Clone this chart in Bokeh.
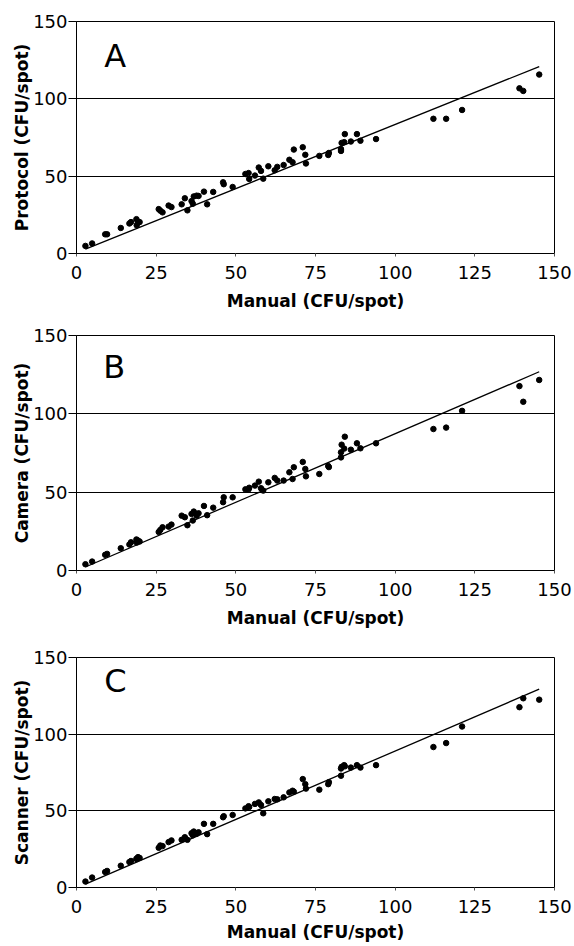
from bokeh.plotting import figure
from bokeh.layouts import column
from bokeh.models import Range1d, FixedTicker, Label
from bokeh.embed import file_html
from bokeh.resources import INLINE

# ---- data ----
manual = [2.8, 4.9, 9.0, 9.6, 13.9, 16.6, 17.1, 18.8, 19.3, 19.8, 18.9,
          25.8, 26.3, 27.0, 28.9, 29.8, 33.0, 34.0, 34.8, 36.1, 36.5, 36.8,
          37.7, 38.3, 40.0, 41.0, 42.9, 46.0, 46.2, 49.0, 53.0, 54.0, 54.2,
          56.0, 57.2, 57.9, 58.6, 60.2, 62.2, 63.0, 65.0, 66.8, 67.8, 68.2,
          71.0, 71.8, 72.0, 76.2, 79.0, 79.2, 83.0, 83.0, 83.2, 84.0, 84.2,
          86.1, 88.0, 89.1, 94.0, 112.0, 116.0, 121.0, 139.0, 140.2, 145.2]

protocol = [4.9, 6.5, 12.4, 12.4, 16.5, 19.4, 20.3, 22.2, 20.3, 20.3, 18.2,
            28.7, 27.7, 26.6, 31.0, 30.0, 31.8, 35.7, 27.9, 33.9, 32.2, 36.9,
            37.4, 37.2, 40.0, 31.8, 39.8, 46.0, 44.8, 43.0, 51.4, 52.0, 48.2,
            50.4, 55.6, 53.4, 48.4, 56.4, 53.8, 56.0, 57.2, 60.6, 59.0, 67.2,
            68.7, 63.8, 58.2, 63.1, 63.7, 65.0, 66.3, 67.5, 71.5, 72.0, 77.2,
            72.4, 77.2, 72.9, 74.0, 87.1, 87.1, 92.8, 106.8, 105.1, 115.7]

camera = [4.0, 5.7, 10.0, 10.6, 14.2, 16.6, 18.0, 19.8, 19.1, 18.5, 17.8,
          24.6, 25.9, 27.6, 28.0, 29.3, 35.0, 34.0, 28.9, 36.1, 31.9, 37.6,
          35.0, 36.5, 41.2, 35.3, 40.1, 43.6, 46.7, 46.7, 51.8, 51.8, 52.8,
          54.2, 56.7, 52.5, 51.0, 56.3, 59.1, 57.4, 57.4, 62.7, 58.4, 65.9,
          69.3, 64.8, 60.1, 61.6, 66.7, 66.0, 72.2, 75.4, 80.3, 77.8, 85.4,
          77.1, 81.2, 78.0, 81.2, 90.3, 91.2, 101.9, 117.7, 107.7, 121.6]

scanner = [3.9, 6.5, 10.1, 10.8, 14.2, 16.6, 17.3, 18.8, 19.8, 19.3, 18.5,
           25.9, 27.4, 27.0, 29.6, 30.7, 31.1, 32.8, 31.1, 35.4, 34.0, 36.5,
           35.0, 36.0, 41.5, 34.8, 41.5, 45.8, 46.5, 47.3, 51.6, 53.0, 52.5,
           54.5, 55.5, 53.8, 48.4, 56.2, 57.7, 57.5, 58.8, 62.0, 63.1, 62.5,
           70.7, 67.4, 64.5, 63.8, 67.4, 68.7, 72.9, 77.6, 78.7, 79.8, 79.0,
           78.2, 79.8, 78.2, 79.8, 91.6, 94.2, 105.0, 117.6, 123.4, 122.5]

# trend lines (slope, intercept)
slopes = [0.829, 0.875, 0.893]
intercepts = [0.5, -0.2, -0.3]

panel_letters = ["A", "B", "C"]
y_labels = ["Protocol (CFU/spot)", "Camera (CFU/spot)", "Scanner (CFU/spot)"]
x_label = "Manual (CFU/spot)"
x_ticks = [0, 25, 50, 75, 100, 125, 150]
y_ticks = [0, 50, 100, 150]

series = [protocol, camera, scanner]

# layout (screen) settings per panel
heights = [322, 322, 302]
border_top = [21, 13, 13]
border_bottom = [69, 74, 59]
label_standoff = [9, 9, 6]
letter_pos = [(8.7, 127.9), (8.4, 129.7), (8.7, 134.5)]

FONT = "DejaVu Sans"


def make_panel(i):
    p = figure(width=574, height=heights[i], output_backend="svg",
               toolbar_location=None, x_range=Range1d(0, 150),
               y_range=Range1d(0, 150), min_border_left=76,
               min_border_right=20, min_border_top=border_top[i],
               min_border_bottom=border_bottom[i])
    p.background_fill_color = "white"
    p.border_fill_color = "white"
    p.outline_line_color = "black"
    p.outline_line_width = 1

    p.xgrid.visible = False
    p.ygrid.ticker = FixedTicker(ticks=y_ticks)
    p.ygrid.grid_line_color = "black"
    p.ygrid.grid_line_width = 1

    xa = p.xaxis[0]
    xa.ticker = FixedTicker(ticks=x_ticks)
    xa.axis_label = x_label
    xa.axis_label_text_font = FONT
    xa.axis_label_text_font_style = "bold"
    xa.axis_label_text_font_size = "17px"
    xa.axis_label_text_color = "black"
    xa.major_label_text_font = FONT
    xa.major_label_text_font_size = "18px"
    xa.major_label_text_color = "black"
    xa.major_tick_out = 3
    xa.major_tick_in = 0
    xa.minor_tick_out = 0
    xa.minor_tick_in = 0
    xa.axis_line_color = "black"
    xa.major_tick_line_color = "#555555"
    xa.major_label_standoff = 9
    xa.axis_label_standoff = label_standoff[i]

    ya = p.yaxis[0]
    ya.ticker = FixedTicker(ticks=y_ticks)
    ya.axis_label = y_labels[i]
    ya.axis_label_text_font = FONT
    ya.axis_label_text_font_style = "bold"
    ya.axis_label_text_font_size = "17px"
    ya.axis_label_text_color = "black"
    ya.axis_label_standoff = -2
    ya.major_label_text_font = FONT
    ya.major_label_text_font_size = "18px"
    ya.major_label_text_color = "black"
    ya.major_label_standoff = 1
    ya.major_tick_out = 8
    ya.major_tick_in = 0
    ya.minor_tick_out = 0
    ya.minor_tick_in = 0
    ya.axis_line_color = "black"
    ya.major_tick_line_color = "black"

    ys = series[i]
    x0, x1 = min(manual), max(manual)
    p.line([x0, x1], [slopes[i] * x0 + intercepts[i], slopes[i] * x1 + intercepts[i]],
           line_color="black", line_width=1.3)
    p.scatter(manual, ys, size=5.5, color="black", line_color="black")

    lx, ly = letter_pos[i]
    p.add_layout(Label(x=lx, y=ly, text=panel_letters[i], text_font=FONT,
                       text_font_size="32px", text_color="black",
                       text_baseline="alphabetic", text_align="left"))
    return p


panels = [make_panel(i) for i in range(3)]
layout = column(*panels, spacing=0)

open("out.html", "w").write(file_html(layout, INLINE))
